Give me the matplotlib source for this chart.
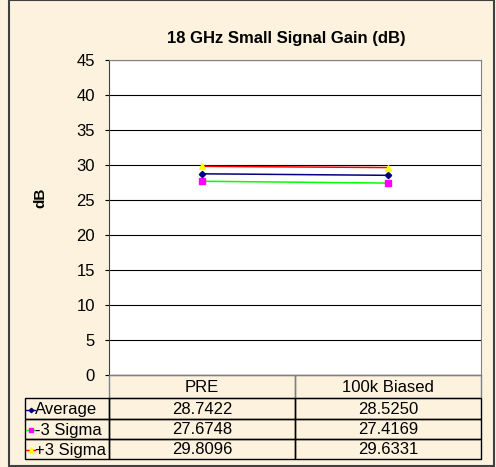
import matplotlib
matplotlib.use("Agg")
import matplotlib.pyplot as plt
from matplotlib.patches import Rectangle
from matplotlib.lines import Line2D

plt.rcParams['font.family'] = ['Liberation Sans', 'DejaVu Sans']

# data
categories = ["PRE", "100k Biased"]
series_names = ["Average", "-3 Sigma", "+3 Sigma"]
average = [28.7422, 28.5250]
minus_3sigma = [27.6748, 27.4169]
plus_3sigma = [29.8096, 29.6331]
y_ticks = [0, 5, 10, 15, 20, 25, 30, 35, 40, 45]

# styles per series: line colour, marker, marker colour, size
styles = [
    ("#000080", "D", "#000080", 3.2),
    ("#00FF00", "s", "#FF00FF", 4.5),
    ("#FF0000", "^", "#FFFF00", 5.0),
]
values = [average, minus_3sigma, plus_3sigma]

W, H = 496, 467
BG = "#FCF2DE"
FS = 12
fig = plt.figure(figsize=(W / 100, H / 100), dpi=100, facecolor=BG)


def fx(px):
    return px / W


def fy(py):
    return 1 - py / H


# outer chart border
fig.patches.append(Rectangle((fx(9), fy(466)), fx(494) - fx(9), fy(0) - fy(466),
                             transform=fig.transFigure, fill=False,
                             edgecolor="#404040", linewidth=1.5))

# plot area
left, right, top, bottom = 109, 481, 60, 375
ax = fig.add_axes([fx(left), fy(bottom), fx(right) - fx(left), fy(top) - fy(bottom)])
ax.set_facecolor("white")
x = list(range(len(categories)))
for vals, (lc, mk, mc, ms) in zip(values, styles):
    ax.plot(x, vals, color=lc, linewidth=1.1, marker=mk, markersize=ms,
            markerfacecolor=mc, markeredgecolor=mc, zorder=3)

ax.set_xlim(-0.5, len(categories) - 0.5)
ax.set_ylim(0, 45)
ax.set_yticks(y_ticks)
ax.set_yticklabels([str(t) for t in y_ticks], fontsize=FS)
ax.set_xticks([])
ax.yaxis.grid(True, color="black", linewidth=0.8)
ax.set_axisbelow(True)
for s in ["top", "right"]:
    ax.spines[s].set_color("#808080")
ax.spines["left"].set_color("#404040")
ax.spines["bottom"].set_color("black")
ax.tick_params(axis="y", length=3, pad=7, width=0.8)

fig.text(fx(286), fy(38), "18 GHz Small Signal Gain (dB)", ha="center", va="center",
         fontsize=12, fontweight="bold")
fig.text(fx(40), fy(198), "dB", ha="center", va="center", rotation=90,
         fontsize=11, fontweight="bold")

# data table below the plot
tab_left = 25
col_w = (right - left) / len(categories)
header = (375, 398)
rows = [(398, 419), (419, 439), (439, 459)]


def rect(x0, y0, x1, y1, color, lw=1.0):
    fig.patches.append(Rectangle((fx(x0), fy(y1)), fx(x1) - fx(x0), fy(y0) - fy(y1),
                                 transform=fig.transFigure, fill=False,
                                 edgecolor=color, linewidth=lw))


for i, cat in enumerate(categories):
    x0 = left + i * col_w
    rect(x0, header[0], x0 + col_w, header[1], "#808080")
    fig.text(fx(x0 + col_w / 2), fy((header[0] + header[1]) / 2 + 1), cat,
             ha="center", va="center", fontsize=FS)

for (y0, y1), name, vals, (lc, mk, mc, ms) in zip(rows, series_names, values, styles):
    rect(tab_left, y0, left, y1, "black")
    yc = fy((y0 + y1) / 2 + 1)
    fig.lines.append(Line2D([fx(tab_left + 1), fx(tab_left + 10)], [yc, yc],
                            transform=fig.transFigure, color=lc, linewidth=1.0))
    fig.lines.append(Line2D([fx(tab_left + 5.5)], [yc], transform=fig.transFigure,
                            marker=mk, markersize=ms * 0.7, color=mc,
                            markeredgecolor=mc, linestyle="none"))
    fig.text(fx(tab_left + 10), yc, name, ha="left", va="center", fontsize=FS)
    for i, v in enumerate(vals):
        x0 = left + i * col_w
        rect(x0, y0, x0 + col_w, y1, "black")
        fig.text(fx(x0 + col_w / 2), yc, f"{v:.4f}", ha="center", va="center",
                 fontsize=FS)

fig.savefig("out.png", dpi=100, facecolor=BG)
